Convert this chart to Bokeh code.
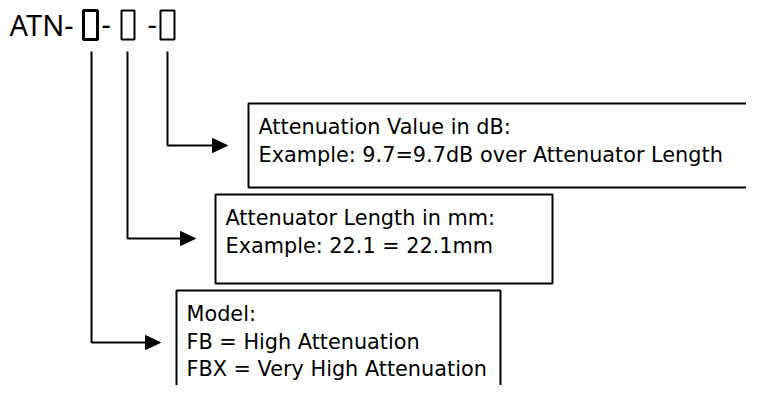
from bokeh.plotting import figure
from bokeh.models import Range1d
from bokeh.core.properties import value
from bokeh.embed import file_html
from bokeh.resources import INLINE

# ---- content ----
prefix = "ATN-"
separators = ["-", "-"]
box_titles = ["Attenuation Value in dB:", "Attenuator Length in mm:", "Model:"]
box_lines = [
    ["Example: 9.7=9.7dB over Attenuator Length"],
    ["Example: 22.1 = 22.1mm"],
    ["FB = High Attenuation", "FBX = Very High Attenuation"],
]

# ---- layout (image pixel coordinates) ----
W, H = 746, 385
FONT = "DejaVu Sans"
CODE_FONT = "Noto Sans"

p = figure(width=W, height=H, output_backend="svg", toolbar_location=None,
           x_range=Range1d(0, W), y_range=Range1d(H, 0),
           min_border=0, outline_line_color=None)
p.axis.visible = False
p.grid.visible = False
p.background_fill_color = "white"

# title code
p.text(x=[9], y=[24], text=[prefix], text_font=value(CODE_FONT), text_font_size="29px",
       text_baseline="alphabetic", text_color="black")
slot_x = [[83, 97], [121, 134], [160, 174]]
p.quad(left=[s[0] for s in slot_x], right=[s[1] for s in slot_x], top=[10, 10, 10], bottom=[39, 39, 39],
       fill_color=None, line_color="black", line_width=[3, 2, 2])
p.text(x=[101, 147], y=[24, 24], text=separators, text_font=value(CODE_FONT), text_font_size="29px",
       text_baseline="alphabetic", text_color="black")

# connectors: vertical drop then horizontal to arrow
drop_x = [167, 127, 91]
turn_y = [145, 238, 342]
tip_x = [227, 195, 160]
p.multi_line(xs=[[dx, dx, tx - 12] for dx, tx in zip(drop_x, tip_x)],
             ys=[[51, ty, ty] for ty in turn_y], line_color="black", line_width=2)
p.patches(xs=[[tx - 15, tx, tx - 15] for tx in tip_x],
          ys=[[ty - 7, ty, ty + 7] for ty in turn_y], fill_color="black", line_color="black")

# boxes
box_l = [248, 215, 176]
box_r = [780, 552, 500]
box_t = [103, 194, 290]
box_b = [187, 283, 412]
p.quad(left=box_l, right=box_r, top=box_t, bottom=box_b, fill_color="white",
       line_color="black", line_width=2)

tx, ty, tt = [], [], []
for i in range(3):
    lines = [box_titles[i]] + box_lines[i]
    for j, ln in enumerate(lines):
        tx.append(box_l[i] + 10)
        ty.append(box_t[i] + 23.5 + 27.5 * j)
        tt.append(ln)
p.text(x=tx, y=ty, text=tt, text_font=value(FONT), text_font_size="20.8px",
       text_baseline="alphabetic", text_color="black")

open("out.html", "w").write(file_html(p, INLINE))
